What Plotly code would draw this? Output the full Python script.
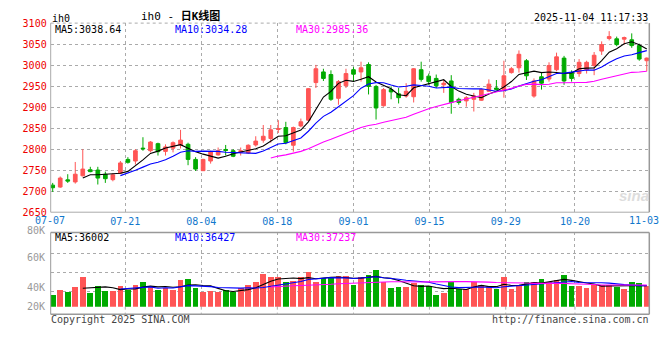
import numpy as np
import plotly.graph_objects as go

# ---------------- data ----------------
opens = [2714.4, 2709.8, 2727.0, 2722.0, 2736.6, 2751.0, 2750.3, 2740.4, 2727.4, 2742.7,
         2775.6, 2771.8, 2802.4, 2796.3, 2813.1, 2794.7, 2802.4, 2810.0, 2811.6, 2775.6,
         2748.8, 2771.8, 2786.3, 2799.3, 2796.3, 2792.4, 2790.9, 2810.0, 2821.5, 2825.3,
         2846.8, 2851.4, 2809.3, 2855.2, 2869.0, 2958.5, 2983.8, 2977.6, 2921.0, 2950.9,
         2989.1, 2983.8, 3001.4, 2949.3, 2903.4, 2941.7, 2931.7, 2926.4, 2924.8, 2989.1,
         2973.8, 2968.4, 2953.1, 2962.3, 2918.7, 2914.9, 2918.7, 2916.4, 2937.8, 2945.5,
         2941.7, 2982.2, 2993.7, 3010.5, 2926.4, 2972.3, 2966.9, 2989.1, 3016.7, 2982.2,
         2979.9, 2989.1, 2999.1, 3033.5, 3063.3, 3062.6, 3061.8, 3060.3, 3046.5, 3010.5]
closes = [2708.2, 2731.2, 2724.0, 2740.4, 2752.6, 2746.5, 2731.2, 2729.7, 2738.9, 2767.2,
          2768.7, 2796.3, 2800.9, 2816.9, 2794.0, 2805.4, 2815.4, 2821.5, 2775.6, 2752.6,
          2775.6, 2794.0, 2796.3, 2797.0, 2783.2, 2796.3, 2809.3, 2819.2, 2830.7, 2846.0,
          2849.1, 2815.4, 2851.4, 2865.1, 2944.0, 2991.4, 2968.4, 2918.7, 2960.8, 2979.9,
          2978.4, 2993.7, 2949.3, 2898.0, 2941.7, 2936.3, 2922.5, 2937.8, 2991.4, 2966.1,
          2960.8, 2950.9, 2957.0, 2911.1, 2911.1, 2922.5, 2926.4, 2941.7, 2954.7, 2942.4,
          2974.6, 2991.4, 3025.8, 2974.6, 2962.3, 2957.0, 2999.1, 3019.7, 2962.3, 2968.4,
          3006.7, 3006.7, 3023.5, 3048.8, 3067.9, 3048.8, 3065.6, 3046.5, 3014.4, 3016.7]
highs = [2719.7, 2735.0, 2740.4, 2769.5, 2800.0, 2758.0, 2758.0, 2746.5, 2742.7, 2771.8,
         2781.0, 2800.1, 2828.4, 2819.2, 2815.4, 2811.5, 2818.5, 2846.0, 2815.4, 2781.0,
         2777.1, 2796.3, 2803.9, 2810.0, 2800.1, 2803.9, 2811.5, 2830.7, 2857.5, 2857.5,
         2869.0, 2865.1, 2853.7, 2872.8, 2945.5, 3000.6, 2991.4, 2987.6, 2964.6, 2991.4,
         2995.2, 3008.2, 3006.7, 2953.1, 2945.5, 2949.3, 2945.5, 2957.0, 2992.9, 3008.2,
         2979.9, 2977.6, 2964.6, 2976.1, 2922.5, 2926.4, 2934.0, 2944.0, 2966.1, 2964.6,
         3010.5, 2995.2, 3035.0, 3014.4, 2968.4, 2983.8, 3006.7, 3029.7, 3022.0, 2987.6,
         3014.4, 3010.5, 3031.2, 3056.5, 3080.9, 3067.9, 3067.9, 3075.6, 3051.1, 3018.2]
lows = [2698.3, 2708.0, 2719.7, 2718.0, 2735.0, 2745.0, 2715.9, 2719.7, 2723.5, 2741.2,
        2765.6, 2763.3, 2796.3, 2792.4, 2784.8, 2784.8, 2792.4, 2801.6, 2761.8, 2748.0,
        2748.0, 2765.6, 2784.8, 2784.8, 2781.0, 2784.8, 2788.6, 2806.2, 2815.4, 2815.4,
        2838.4, 2811.6, 2794.0, 2852.1, 2867.4, 2945.5, 2962.3, 2914.9, 2905.7, 2945.5,
        2960.8, 2960.8, 2930.2, 2870.5, 2901.1, 2918.7, 2908.8, 2922.5, 2911.1, 2960.8,
        2953.1, 2945.5, 2934.0, 2884.3, 2905.7, 2901.1, 2889.6, 2914.9, 2936.3, 2939.4,
        2922.5, 2979.9, 2982.2, 2964.6, 2922.5, 2941.7, 2960.8, 2985.3, 2953.1, 2960.8,
        2972.3, 2979.9, 2976.1, 3024.3, 3058.8, 3045.0, 3048.8, 3041.2, 3010.5, 2985.3]
volumes = [29000, 32750, 31250, 35000, 43250, 30500, 35750, 32000, 32000, 35750,
           32750, 36500, 38750, 35750, 32750, 34500, 33250, 41000, 41750, 34250,
           31500, 32000, 31250, 32750, 31250, 34250, 36500, 38750, 45500, 43250,
           43250, 38750, 40250, 43250, 47000, 38750, 42500, 42500, 44000, 44000,
           37000, 43250, 44750, 48500, 38750, 34250, 35000, 35000, 38000, 36500,
           35750, 29000, 30750, 39500, 33750, 33750, 38750, 36500, 35000, 33500,
           43250, 33750, 37000, 39500, 39500, 41750, 38750, 41000, 44750, 35750,
           35750, 34250, 37000, 37000, 36500, 35000, 33500, 38750, 38000, 35750]

date_tick_pos = [9.65, 19.76, 29.87, 40.0, 50.1, 60.24, 69.45]
date_tick_labels = ["07-21", "08-04", "08-18", "09-01", "09-15", "09-29", "10-20"]
edge_date_labels = ["07-07", "11-03"]
price_ticks = [2650, 2700, 2750, 2800, 2850, 2900, 2950, 3000, 3050, 3100]
vol_tick_labels = ["80K", "60K", "40K", "20K"]
vol_grid_vals = [31500, 46500, 61500]
price_ma_text = ["MA5:3038.64", "MA10:3034.28", "MA30:2985.36"]
vol_ma_text = ["MA5:36002", "MA10:36427", "MA30:37237"]

# ---------------- derived ----------------
W, H = 660, 360
idx = np.arange(len(closes))
RED, GREEN = "#FF5555", "#00AA00"
MA_COLORS = ["#000000", "#0000FF", "#FF00FF"]
MONO = "DejaVu Sans Mono, Liberation Mono, monospace"


def ma(vals, n):
    s = np.asarray(vals, float)
    out = np.full(len(s), np.nan)
    c = np.cumsum(s)
    out[n - 1:] = (c[n - 1:] - np.concatenate([[0], c[:-n]])) / n
    return out


bar_colors = [RED if c >= o else GREEN for o, c in zip(opens, closes)]

# pixel geometry
XL, XR = 50.7, 649.3
PT, PB = 17.7, 213.3
VT, VB, VBB = 234.3, 311.0, 319.0


def px(x):
    return x / W


def py(y):
    return 1 - y / H


fig = go.Figure()
fig.add_trace(go.Candlestick(
    x=idx, open=opens, high=highs, low=lows, close=closes,
    increasing=dict(line=dict(color=RED, width=1), fillcolor=RED),
    decreasing=dict(line=dict(color=GREEN, width=1), fillcolor=GREEN),
    whiskerwidth=0, showlegend=False, hoverinfo="skip", xaxis="x", yaxis="y"))
for n, col in zip([5, 10, 30], MA_COLORS):
    fig.add_trace(go.Scatter(x=idx, y=ma(closes, n), mode="lines",
                             line=dict(color=col, width=1.1), showlegend=False,
                             hoverinfo="skip", xaxis="x", yaxis="y"))

fig.add_trace(go.Bar(x=idx, y=volumes, marker=dict(color=bar_colors, line=dict(width=0)),
                     width=0.76, showlegend=False, hoverinfo="skip", xaxis="x2", yaxis="y2"))
for n, col in zip([5, 10, 30], MA_COLORS):
    fig.add_trace(go.Scatter(x=idx, y=ma(volumes, n), mode="lines",
                             line=dict(color=col, width=1.1), showlegend=False,
                             hoverinfo="skip", xaxis="x2", yaxis="y2"))

xr = [(XL - 52.7) / 7.52, (XR - 52.7) / 7.52]
grid_kw = dict(showgrid=True, gridcolor="#AAAAAA", griddash="dot", gridwidth=1,
               zeroline=False, showline=False, ticks="")
vb_range = [20000, 20000 + (VB - VT) * 750]

fig.update_layout(
    width=W, height=H, margin=dict(l=0, r=0, t=0, b=0),
    paper_bgcolor="white", plot_bgcolor="white",
    xaxis=dict(domain=[px(XL), px(XR)], range=xr, tickvals=date_tick_pos,
               ticktext=date_tick_labels, tickfont=dict(family=MONO, size=10, color="#1177CC"),
               ticklabelstandoff=2,
               rangeslider=dict(visible=False), anchor="y", **grid_kw),
    yaxis=dict(domain=[py(PB), py(PT)], range=[2650, 3100], tickvals=price_ticks,
               tickfont=dict(family=MONO, size=10, color="#EE0000"),
               ticklabelstandoff=3, anchor="x", **grid_kw),
    xaxis2=dict(domain=[px(XL), px(XR)], range=xr, tickvals=date_tick_pos,
                showticklabels=False, anchor="y2", matches="x", **grid_kw),
    yaxis2=dict(domain=[py(VB), py(VT)], range=vb_range, tickvals=vol_grid_vals,
                showticklabels=False, anchor="x2", **grid_kw),
    bargap=0, font=dict(family=MONO, size=10),
)

shapes = []
def line(x0, y0, x1, y1, color="#999999", dash="solid", width=1):
    shapes.append(dict(type="line", xref="paper", yref="paper", x0=px(x0), y0=py(y0),
                       x1=px(x1), y1=py(y1), line=dict(color=color, width=width, dash=dash)))

# price frame
line(XL, PT, XR, PT, "#AAAAAA", "dot")
line(XL, PB, XR, PB, "#AAAAAA", "solid")
line(XL, PT, XL, PB, "#AAAAAA", "solid")
line(XR, PT, XR, PB, "#999999", "solid", 1.5)
# volume frame
line(XL, VT, XR, VT, "#999999", "solid", 1.5)
line(XL, VBB, XR, VBB, "#999999", "solid", 1.5)
line(XL, VT, XL, VBB, "#999999", "solid")
line(XR, VT, XR, VBB, "#999999", "solid", 1.5)
for t in date_tick_pos:
    xx = 52.7 + 7.52 * t
    line(xx, VB, xx, VBB, "#AAAAAA", "dot")
fig.update_layout(shapes=shapes)

ann = []
def text(s, x, y, color="#000000", size=10, xanchor="left", family=MONO):
    ann.append(dict(text=s, x=px(x), y=py(y), xref="paper", yref="paper", showarrow=False,
                    xanchor=xanchor, yanchor="middle", borderpad=0,
                    font=dict(family=family, size=size, color=color)))

text("ih0", 51, 12.5)
text("ih0 - <b>日K线图</b>", 140, 10, size=11, family="DejaVu Sans Mono, Noto Sans CJK SC")
text("2025-11-04 11:17:33", 649, 12, xanchor="right")
for s, x, c in zip(price_ma_text, [54, 174, 295], MA_COLORS):
    text(s, x, 24, c)
for s, x, c in zip(vol_ma_text, [54, 174, 295], MA_COLORS):
    text(s, x, 239.5, c)
for s, y in zip(vol_tick_labels, [232, 260, 291, 311]):
    text(s, 46, y, "#999999", xanchor="right")
text(edge_date_labels[0], 50, 221.5, "#1177CC", xanchor="center")
text(edge_date_labels[1], 660, 221.5, "#1177CC", xanchor="right")
text("Copyright 2025 SINA.COM", 50, 324.5, "#444444")
text("http://finance.sina.com.cn", 650, 324.5, "#444444", xanchor="right")
text("<b><i>sina</i></b>", 650, 196, "#DDDDDD", size=15, xanchor="right", family="Liberation Sans")
fig.update_layout(annotations=ann)

fig.write_html("out.html", config={"displayModeBar": False, "staticPlot": True},
               post_script="document.body.style.margin='0';document.body.style.overflow='hidden';")
